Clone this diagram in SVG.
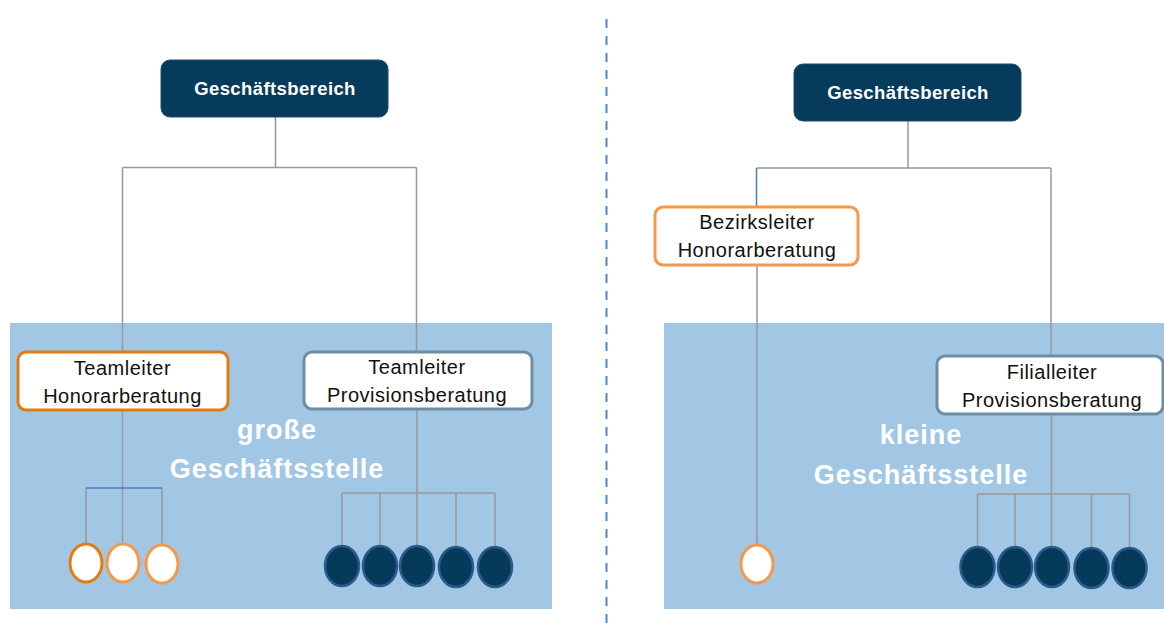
<svg xmlns="http://www.w3.org/2000/svg" width="1164" height="623" viewBox="0 0 1164 623">
<style>
.bg{fill:#A2C7E5}
.top{fill:#063B5C;stroke:#1E4C6E;stroke-width:1}
.topt{font-family:"Liberation Sans",Arial,sans-serif;font-weight:bold;font-size:18.5px;fill:#fff;letter-spacing:0.4px;text-anchor:middle}
.box{fill:#fff;stroke-width:3}
.or1{stroke:#E07C10}
.or2{stroke:#F4994A}
.gb{stroke:#6C8EA3}
.bt{font-family:"Liberation Sans",Arial,sans-serif;font-size:20px;fill:#111;letter-spacing:0.5px;text-anchor:middle}
.big{font-family:"Liberation Sans",Arial,sans-serif;font-weight:bold;font-size:27px;fill:#fff;letter-spacing:1px;text-anchor:middle}
.ln{stroke:#999;stroke-width:1.5;fill:none}
.lb{stroke:#4A7CC0;stroke-width:1.5;fill:none}
.ow{fill:#fff;stroke-width:3}
.nv{fill:#053A5B;stroke:#2D5A8C;stroke-width:2.5}
</style>
<rect width="1164" height="623" fill="#fff"/>
<rect id="bg-left" class="bg" x="10" y="323" width="542" height="286"/>
<rect id="bg-right" class="bg" x="664" y="323" width="500" height="286"/>
<line id="divider" x1="606.5" y1="19" x2="606.5" y2="623" stroke="#4F87C8" stroke-width="2" stroke-dasharray="9 8"/>
<text class="big" x="277" y="439">große</text>
<text class="big" x="277" y="478">Geschäftsstelle</text>
<text class="big" x="921" y="444">kleine</text>
<text class="big" x="921" y="484">Geschäftsstelle</text>
<g id="connectors">
<path class="ln" d="M275.5 117V167.5M122.5 167.5H416.5M122.5 167.5V352M416.5 167.5V352"/>
<path class="ln" d="M122.5 411V545M86 488V545M162 488V545"/>
<path class="lb" d="M86 488H162"/>
<path class="ln" d="M417 410V546M342 493H495M342 493V546M380 493V546M456 493V547M495 493V547"/>
<path class="ln" d="M908 121V168M756.5 168H1051M1051 168V356M757 266V545"/>
<path class="lb" d="M756.5 168V207"/>
<path class="ln" d="M1051.5 415V547M977.5 494H1129.5M977.5 494V547M1015 494V547M1091.5 494V548M1129.5 494V548"/>
</g>
<g id="gb-left"><rect class="top" x="161" y="60" width="227" height="57" rx="9"/><text class="topt" x="275" y="95">Geschäftsbereich</text></g>
<g id="gb-right"><rect class="top" x="794" y="64" width="227" height="57" rx="9"/><text class="topt" x="908" y="99">Geschäftsbereich</text></g>
<g id="tl-honorar"><rect class="box or1" x="18" y="352" width="210" height="58" rx="8"/><text class="bt" x="122.5" y="375">Teamleiter</text><text class="bt" x="122.5" y="403">Honorarberatung</text></g>
<g id="tl-provision"><rect class="box gb" x="304" y="352" width="228" height="57" rx="8"/><text class="bt" x="417" y="374">Teamleiter</text><text class="bt" x="417" y="402">Provisionsberatung</text></g>
<g id="bl-honorar"><rect class="box or2" x="655" y="207" width="203" height="58" rx="8"/><text class="bt" x="757" y="229">Bezirksleiter</text><text class="bt" x="757" y="257">Honorarberatung</text></g>
<g id="fl-provision"><rect class="box gb" x="937" y="356" width="226" height="58" rx="8"/><text class="bt" x="1052" y="379">Filialleiter</text><text class="bt" x="1052" y="407">Provisionsberatung</text></g>
<g id="hon-left">
<ellipse class="ow or1" cx="86" cy="563" rx="16" ry="19"/>
<ellipse class="ow or2" cx="123" cy="563" rx="16" ry="19"/>
<ellipse class="ow or2" cx="162" cy="564" rx="16" ry="19"/>
</g>
<g id="prov-left">
<ellipse class="nv" cx="342" cy="566" rx="17" ry="20"/>
<ellipse class="nv" cx="380" cy="566" rx="17" ry="20"/>
<ellipse class="nv" cx="417" cy="566" rx="17" ry="20"/>
<ellipse class="nv" cx="456" cy="567" rx="17" ry="20"/>
<ellipse class="nv" cx="495" cy="567" rx="17" ry="20"/>
</g>
<g id="hon-right"><ellipse class="ow or2" cx="757" cy="564" rx="16" ry="19"/></g>
<g id="prov-right">
<ellipse class="nv" cx="977.5" cy="567" rx="17" ry="20"/>
<ellipse class="nv" cx="1015" cy="567" rx="17" ry="20"/>
<ellipse class="nv" cx="1052" cy="567" rx="17" ry="20"/>
<ellipse class="nv" cx="1091.5" cy="568" rx="17" ry="20"/>
<ellipse class="nv" cx="1129.5" cy="568" rx="17" ry="20"/>
</g>
</svg>
